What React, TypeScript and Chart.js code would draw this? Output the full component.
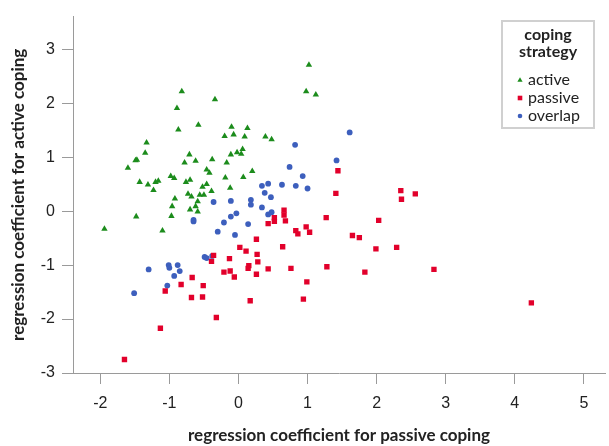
import React, { useEffect, useRef } from 'react';
import { Chart, registerables } from 'chart.js';

Chart.register(...registerables);

// ---- data ----
const seriesLabels = ['active', 'passive', 'overlap'];
const legendTitle = ['coping', 'strategy'];
const xTitle = 'regression coefficient for passive coping';
const yTitle = 'regression coefficient for active coping';
const xTicks = [-2, -1, 0, 1, 2, 3, 4, 5];
const yTicks = [-3, -2, -1, 0, 1, 2, 3];

const activeX = [1.02, 0.98, 1.12, -0.82, -0.34, -0.89, -0.87, -0.58, -0.10, 0.13, -0.20, -0.07, 0.09, 0.39, 0.48, -1.33, -1.35, -1.47, -1.49, -1.60, -0.71, -0.78, -0.62, -0.38, -0.17, -0.11, -0.02, 0.04, 0.06, -0.46, -0.42, 0.20, 0.07, -0.19, -0.98, -0.93, -1.43, -1.31, -1.23, -1.20, -1.16, -0.76, -0.70, -0.52, -0.46, -0.39, -0.12, -0.92, -0.73, -0.68, -0.56, -0.50, -0.59, -0.62, -0.70, -0.59, -0.96, -0.97, -1.48, -1.94, -1.10];
const activeY = [2.71, 2.22, 2.16, 2.22, 2.07, 1.91, 1.51, 1.60, 1.56, 1.54, 1.39, 1.42, 1.38, 1.38, 1.33, 1.27, 1.08, 0.95, 0.94, 0.80, 1.05, 0.90, 0.93, 0.96, 0.90, 1.05, 1.09, 1.06, 1.15, 0.77, 0.71, 0.74, 0.63, 0.62, 0.65, 0.61, 0.54, 0.49, 0.39, 0.54, 0.56, 0.54, 0.58, 0.45, 0.50, 0.37, 0.43, 0.23, 0.32, 0.27, 0.30, 0.30, 0.18, 0.09, 0.03, -0.01, 0.09, -0.09, -0.10, -0.33, -0.36];

const passiveX = [1.44, 1.41, 2.35, 2.56, 2.36, 0.66, 0.66, 0.68, 0.52, 0.52, 0.43, 1.27, 2.03, 0.83, 0.86, 0.98, 1.03, 0.26, 1.65, 1.75, 1.99, 2.29, 0.02, 0.11, 0.64, -0.13, 0.27, 0.28, 0.15, 0.14, -0.21, -0.12, -0.06, 0.26, 0.43, 0.76, 1.28, 1.83, 2.83, 0.99, 0.17, 0.94, 4.24, -0.36, -0.39, -0.67, -0.83, -0.51, -1.06, -0.68, -0.52, -0.32, -1.13, -1.65];
const passiveY = [0.75, 0.33, 0.38, 0.32, 0.22, 0.02, -0.07, -0.18, -0.12, -0.19, -0.23, -0.12, -0.17, -0.36, -0.42, -0.29, -0.39, -0.52, -0.45, -0.49, -0.70, -0.67, -0.67, -0.74, -0.66, -0.88, -0.80, -0.94, -1.01, -1.06, -1.13, -1.11, -1.22, -1.17, -1.07, -1.06, -1.03, -1.13, -1.08, -1.31, -1.66, -1.63, -1.70, -0.82, -0.93, -1.23, -1.36, -1.38, -1.48, -1.60, -1.59, -1.97, -2.17, -2.75];

const overlapX = [1.61, 1.42, 0.82, 0.74, 0.93, 0.34, 0.43, 0.63, 0.83, 1.00, 0.38, 0.47, -0.36, -0.11, 0.18, 0.18, 0.34, 0.43, 0.48, -0.11, -0.03, -0.65, -0.65, -0.21, 0.14, -0.30, -0.05, -0.49, -0.46, -0.38, -1.30, -1.01, -1.00, -0.88, -0.85, -0.93, -1.03, -1.51];
const overlapY = [1.46, 0.94, 1.23, 0.82, 0.65, 0.47, 0.51, 0.49, 0.47, 0.42, 0.34, 0.26, 0.17, 0.19, 0.21, 0.12, 0.07, -0.06, -0.02, -0.10, -0.04, -0.19, -0.16, -0.21, -0.24, -0.38, -0.44, -0.85, -0.87, -0.83, -1.08, -1.00, -1.05, -1.00, -1.11, -1.20, -1.38, -1.52];

// ---- styles ----
const GREEN = '#1c8c1c';
const RED = '#e2002b';
const BLUE = '#3d5fbd';
const AXIS = '#9a9a9a';
const TEXT = '#222222';
const TITLE_FONT = 'Lato';
const TICK_FONT = '"Liberation Sans", Arial, sans-serif';

const toPoints = (xs: number[], ys: number[]) => xs.map((x, i) => ({ x, y: ys[i] }));

const legendPlugin = {
  id: 'boxLegend',
  afterDraw(chart: any) {
    const ctx: CanvasRenderingContext2D = chart.ctx;
    const bx = 502, by = 21, bw = 92, bh = 107;
    ctx.save();
    ctx.fillStyle = '#ffffff';
    ctx.fillRect(bx, by, bw, bh);
    ctx.strokeStyle = '#d0d0d0';
    ctx.lineWidth = 2;
    ctx.strokeRect(bx, by, bw, bh);
    ctx.fillStyle = TEXT;
    ctx.textAlign = 'center';
    ctx.textBaseline = 'middle';
    ctx.font = `bold 16px ${TITLE_FONT}`;
    legendTitle.forEach((t, i) => ctx.fillText(t, bx + bw / 2, 35 + i * 17));
    ctx.textAlign = 'left';
    ctx.font = `16px ${TITLE_FONT}`;
    const rows = [80, 98, 116];
    chart.data.datasets.forEach((ds: any, i: number) => {
      const y = rows[i];
      const x = 520;
      ctx.fillStyle = ds.backgroundColor;
      ctx.beginPath();
      if (ds.pointStyle === 'triangle') {
        ctx.moveTo(x, y - 2.8);
        ctx.lineTo(x + 2.6, y + 1.8);
        ctx.lineTo(x - 2.6, y + 1.8);
        ctx.closePath();
      } else if (ds.pointStyle === 'rect') {
        ctx.rect(x - 2.3, y - 2.3, 4.6, 4.6);
      } else {
        ctx.arc(x, y, 2.3, 0, Math.PI * 2);
      }
      ctx.fill();
      ctx.fillStyle = TEXT;
      ctx.fillText(ds.label, 528, y);
    });
    ctx.restore();
  },
};

export default function App() {
  const canvasRef = useRef<HTMLCanvasElement | null>(null);

  useEffect(() => {
    if (!canvasRef.current) return;
    const chart = new Chart(canvasRef.current, {
      type: 'scatter',
      data: {
        datasets: [
          {
            label: seriesLabels[0],
            data: toPoints(activeX, activeY),
            pointStyle: 'triangle',
            backgroundColor: GREEN,
            borderColor: GREEN,
            borderWidth: 0,
            pointRadius: 3.7,
          },
          {
            label: seriesLabels[1],
            data: toPoints(passiveX, passiveY),
            pointStyle: 'rect',
            backgroundColor: RED,
            borderColor: RED,
            borderWidth: 0,
            pointRadius: 3.8,
          },
          {
            label: seriesLabels[2],
            data: toPoints(overlapX, overlapY),
            pointStyle: 'circle',
            backgroundColor: BLUE,
            borderColor: BLUE,
            borderWidth: 0,
            pointRadius: 2.9,
          },
        ],
      },
      options: {
        animation: false,
        responsive: true,
        maintainAspectRatio: false,
        layout: { padding: { left: 0, top: 15, right: 2, bottom: 0 } },
        plugins: {
          legend: { display: false },
          tooltip: { enabled: false },
        },
        scales: {
          x: {
            type: 'linear',
            min: -2.395,
            max: 5.306,
            afterBuildTicks: (s: any) => {
              s.ticks = xTicks.map((v) => ({ value: v }));
            },
            afterFit: (s: any) => {
              s.height = 73;
            },
            grid: {
              display: true,
              drawOnChartArea: false,
              drawTicks: true,
              tickLength: 11,
              color: AXIS,
              lineWidth: 1,
            },
            border: { display: true, color: AXIS, width: 1 },
            ticks: {
              padding: 10,
              color: TEXT,
              font: { family: TICK_FONT, size: 16 },
              maxRotation: 0,
            },
            title: {
              display: true,
              text: xTitle,
              color: TEXT,
              font: { family: TITLE_FONT, size: 17, weight: 'bold' },
              padding: { top: 0, bottom: 0 },
            },
          },
          y: {
            type: 'linear',
            min: -3,
            max: 3.607,
            afterBuildTicks: (s: any) => {
              s.ticks = yTicks.map((v) => ({ value: v }));
            },
            afterFit: (s: any) => {
              s.width = 73;
            },
            grid: {
              display: true,
              drawOnChartArea: false,
              drawTicks: true,
              tickLength: 11,
              color: AXIS,
              lineWidth: 1,
            },
            border: { display: true, color: AXIS, width: 1 },
            ticks: {
              padding: 7,
              color: TEXT,
              font: { family: TICK_FONT, size: 16 },
            },
            title: {
              display: true,
              text: yTitle,
              color: TEXT,
              font: { family: TITLE_FONT, size: 17, weight: 'bold' },
              padding: { top: 8, bottom: 0 },
            },
          },
        },
      } as any,
      plugins: [legendPlugin],
    });
    return () => chart.destroy();
  }, []);

  return (
    <div style={{ position: 'fixed', left: 0, top: 0, width: 609, height: 446, background: '#fff' }}>
      <canvas ref={canvasRef} />
    </div>
  );
}
